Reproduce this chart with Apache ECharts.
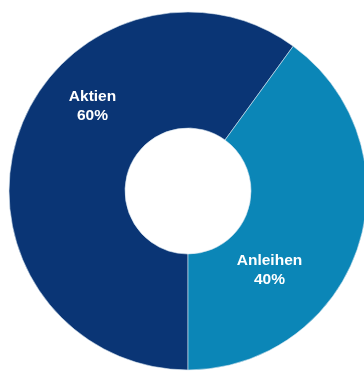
<!DOCTYPE html>
<html><head><meta charset="utf-8">
<script src="https://cdn.jsdelivr.net/npm/echarts@6/dist/echarts.min.js"></script>
<style>html,body{margin:0;padding:0;background:#fff}#c{width:364px;height:371px}</style>
</head><body><div id="c"></div>
<script>
const categories = ['Aktien', 'Anleihen'];
const values = [60, 40];
const colors = ['#0a3575', '#0b86b7'];
const labelPos = [[92.5, 106], [269.5, 270.5]];

const chart = echarts.init(document.getElementById('c'), null, {renderer: 'canvas'});
chart.setOption({
  animation: false,
  series: [{
    type: 'pie',
    center: [188, 191],
    radius: [63, 179],
    startAngle: 270,
    clockwise: true,
    silent: true,
    itemStyle: {borderColor: '#d8e6f0', borderWidth: 0.6},
    label: {
      show: true,
      position: 'inside',
      formatter: p => p.name + '\n' + p.value + '%',
      color: '#fff',
      fontFamily: 'Liberation Sans, Arial, sans-serif',
      fontWeight: 'bold',
      fontSize: 15.5,
      lineHeight: 19,
      align: 'center',
      verticalAlign: 'middle'
    },
    labelLine: {show: false},
    labelLayout: p => ({x: labelPos[p.dataIndex][0], y: labelPos[p.dataIndex][1], align: 'center', verticalAlign: 'middle'}),
    data: categories.map((c, i) => ({name: c, value: values[i], itemStyle: {color: colors[i]}}))
  }]
});
</script></body></html>
